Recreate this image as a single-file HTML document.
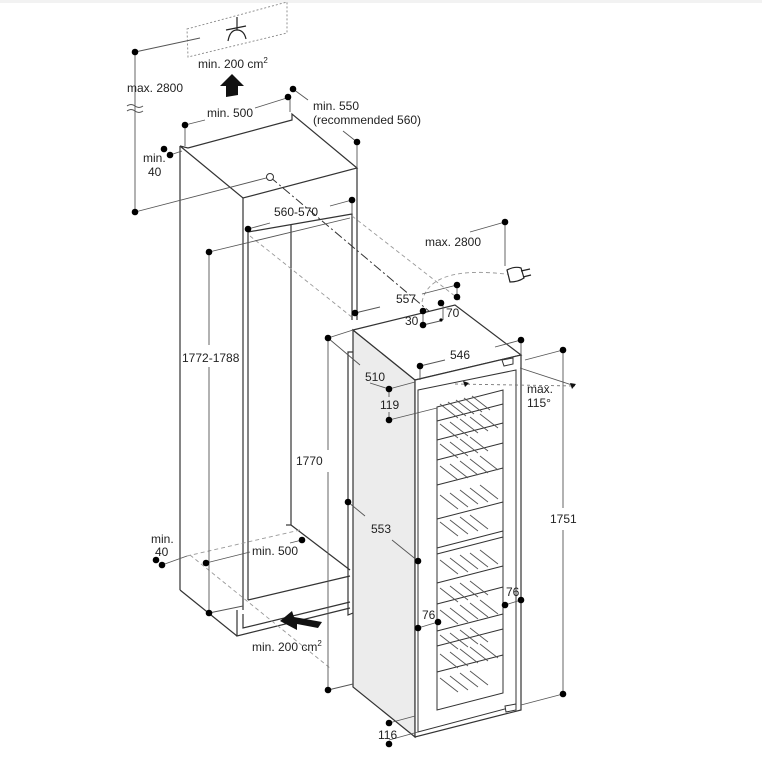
<!DOCTYPE html>
<html><head><meta charset="utf-8"><style>
html,body{margin:0;padding:0;background:#fff;}
svg{display:block}
text{font-family:"Liberation Sans",sans-serif;font-size:12px;fill:#222;}
</style></head><body>
<svg width="762" height="768" viewBox="0 0 762 768" xmlns="http://www.w3.org/2000/svg">
<rect x="0" y="0" width="762" height="3" fill="#f2f2f2"/>
<!-- cabinet -->
<g stroke="#333" stroke-width="1.2" fill="none">
<polygon points="180,146 243,198 357,168 292,114 292,120 188,148" fill="#fff"/>
<line x1="180" y1="146" x2="180" y2="590"/>
<line x1="243" y1="198" x2="243" y2="610"/>
<line x1="357" y1="168" x2="357" y2="320"/>
<polyline points="248,600 248,232 352,214 352,320"/>
<line x1="291" y1="225" x2="291" y2="525"/>
<line x1="180" y1="590" x2="237" y2="636"/>
<polyline points="237,610 237,636 350,608"/>
<polyline points="243,614 243,628 350,602"/>
<line x1="248" y1="600" x2="350" y2="576"/>
<line x1="291" y1="525" x2="350" y2="570"/>
<line x1="286" y1="525" x2="291" y2="525"/>
<polyline points="353,352 348,352 348,615 353,613"/>
</g>
<!-- dashed guides -->
<g stroke="#999" stroke-width="0.9" fill="none" stroke-dasharray="4,3">
<polygon points="187,29 287,2 287,33 188,57" stroke="#888" stroke-dasharray="2,2"/>
<line x1="352" y1="216" x2="460" y2="300"/>
<line x1="250" y1="236" x2="353" y2="318"/>
<line x1="187" y1="556" x2="300" y2="530"/>
<line x1="190" y1="555" x2="330" y2="668"/>
<path d="M422,302 Q430,262 520,276"/>
</g>
<line x1="270" y1="177" x2="430" y2="312" stroke="#333" stroke-width="1" stroke-dasharray="9,3,2,3"/>
<!-- vent symbol -->
<g stroke="#222" stroke-width="1.2" fill="none">
<line x1="237" y1="17" x2="237" y2="30"/><line x1="226" y1="30" x2="246" y2="26"/>
<path d="M228,41 Q230,30 237,30 Q244,30 246,39"/>
</g>
<polygon points="226,97 226,86 220,86 232,74 244,86 238,86 238,95" fill="#111"/>
<polygon points="280,621 292,611 294,617 322,622 318,628 297,624 297,630" fill="#111"/>
<!-- appliance -->
<g stroke="#333" stroke-width="1.2">
<polygon points="353,330 415,380 415,737 353,687" fill="#ececec"/>
<polygon points="353,330 455,305 521,355 415,380" fill="#fff"/>
<polygon points="415,380 521,355 521,710 415,737" fill="#fff"/>
<polygon points="418,390 516,370 516,706 418,732" fill="none" stroke-width="1"/>
<polygon points="437,407 503,390 503,693 437,710" fill="#fff" stroke-width="1"/>
<polygon points="502,360 513,358 513,364 504,366" fill="#fff" stroke-width="1"/>
<polygon points="505,706 516,704 516,710 506,712" fill="#fff" stroke-width="1"/>
</g>
<g stroke="#333" stroke-width="1">
<line x1="437" y1="421" x2="503" y2="404"/><line x1="437" y1="440" x2="503" y2="423"/>
<line x1="437" y1="460" x2="503" y2="443"/><line x1="437" y1="485" x2="503" y2="468"/>
<line x1="437" y1="519" x2="503" y2="502"/>
<line x1="437" y1="548" x2="503" y2="531"/><line x1="437" y1="554" x2="503" y2="537"/>
<line x1="437" y1="583" x2="503" y2="566"/><line x1="437" y1="604" x2="503" y2="587"/>
<line x1="437" y1="631" x2="503" y2="614"/><line x1="437" y1="646" x2="503" y2="629"/>
<line x1="437" y1="672" x2="503" y2="655"/>
</g>
<g stroke="#555" stroke-width="0.9">
<path d="M440,404 l18,14 M448,402 l18,14 M456,400 l18,14 M464,398 l18,14 M472,396 l18,14 M440,424 l18,14 M450,422 l18,14 M460,419 l18,14 M470,417 l18,14 M480,414 l18,14 M440,444 l18,14 M450,442 l18,14 M460,439 l18,14 M470,437 l18,14 M440,466 l18,14 M450,464 l18,14 M460,461 l18,14 M470,459 l18,14 M480,456 l18,14 M440,495 l18,14 M450,493 l18,14 M460,490 l18,14 M470,488 l18,14 M480,485 l18,14 M440,522 l18,14 M450,520 l18,14 M460,517 l18,14 M470,515 l18,14 M440,560 l18,14 M450,558 l18,14 M460,555 l18,14 M470,553 l18,14 M480,550 l18,14 M440,588 l18,14 M450,586 l18,14 M460,583 l18,14 M470,581 l18,14 M440,610 l18,14 M450,608 l18,14 M460,605 l18,14 M470,603 l18,14 M480,600 l18,14 M440,635 l18,14 M450,633 l18,14 M460,630 l18,14 M470,628 l18,14 M440,654 l18,14 M450,652 l18,14 M460,649 l18,14 M470,647 l18,14 M480,644 l18,14 M440,678 l18,14 M450,676 l18,14 M460,673 l18,14 M470,671 l18,14"/>
</g>
<!-- plug -->
<g stroke="#222" stroke-width="1.2" fill="#fff"><path d="M507,270 q8,-4 14,-2 l3,10 q-6,4 -14,4 z"/><line x1="521" y1="271" x2="530" y2="269"/><line x1="523" y1="277" x2="531" y2="275"/></g>
<!-- dimension lines -->
<g stroke="#555" stroke-width="0.9" fill="none">
<line x1="135" y1="52" x2="135" y2="212"/>
<line x1="135" y1="52" x2="200" y2="38"/>
<line x1="135" y1="212" x2="270" y2="177"/>
<line x1="185" y1="125" x2="185" y2="146"/><line x1="185" y1="125" x2="205" y2="120"/><line x1="255" y1="108" x2="290" y2="97"/>
<line x1="290" y1="97" x2="290" y2="112"/><line x1="293" y1="89" x2="308" y2="100"/>
<line x1="357" y1="142" x2="357" y2="168"/><line x1="343" y1="131" x2="357" y2="142"/>
<line x1="170" y1="155" x2="182" y2="151"/>
<line x1="248" y1="229" x2="270" y2="223"/><line x1="330" y1="206" x2="352" y2="200"/><line x1="352" y1="200" x2="352" y2="214"/>
<line x1="209" y1="252" x2="209" y2="345"/><line x1="209" y1="367" x2="209" y2="613"/><line x1="209" y1="252" x2="350" y2="218"/>
<line x1="505" y1="222" x2="505" y2="266"/><line x1="470" y1="232" x2="505" y2="222"/>
<line x1="355" y1="313" x2="380" y2="307"/><line x1="422" y1="294" x2="457" y2="285"/><line x1="457" y1="285" x2="457" y2="297"/>
<line x1="443" y1="304" x2="443" y2="320"/><line x1="423" y1="311" x2="423" y2="325"/><line x1="423" y1="325" x2="440" y2="321"/>
<line x1="420" y1="366" x2="420" y2="380"/><line x1="420" y1="366" x2="445" y2="360"/><line x1="495" y1="347" x2="521" y2="340"/><line x1="521" y1="340" x2="521" y2="355"/>
<line x1="328" y1="338" x2="353" y2="330"/><line x1="328" y1="338" x2="328" y2="450"/><line x1="328" y1="472" x2="328" y2="690"/><line x1="328" y1="690" x2="353" y2="684"/>
<line x1="328" y1="338" x2="360" y2="365"/><line x1="370" y1="383" x2="389" y2="389"/><line x1="389" y1="389" x2="415" y2="382"/>
<line x1="389" y1="420" x2="437" y2="408"/><line x1="389" y1="389" x2="389" y2="397"/><line x1="389" y1="412" x2="389" y2="420"/>
<line x1="563" y1="350" x2="563" y2="508"/><line x1="563" y1="530" x2="563" y2="694"/><line x1="525" y1="360" x2="563" y2="350"/><line x1="521" y1="705" x2="563" y2="694"/>
<line x1="520" y1="368" x2="575" y2="386"/>
<line x1="348" y1="502" x2="365" y2="516"/><line x1="392" y1="540" x2="418" y2="561"/>
<line x1="505" y1="605" x2="521" y2="600"/><line x1="418" y1="628" x2="438" y2="622"/>
<line x1="389" y1="740" x2="418" y2="732"/><line x1="389" y1="723" x2="415" y2="716"/>
<line x1="162" y1="565" x2="187" y2="556"/><line x1="206" y1="563" x2="250" y2="552"/><line x1="290" y1="543" x2="302" y2="540"/>
<line x1="209" y1="613" x2="243" y2="606"/>
</g>
<line x1="455" y1="384" x2="575" y2="386" stroke="#777" stroke-width="0.9" stroke-dasharray="3,3"/>
<polygon points="463,381 469,383 465,387" fill="#111"/><polygon points="570,383 576,384 572,389" fill="#111"/>
<path d="M127,106 q4,-3 8,0 q4,3 8,0 M127,111 q4,-3 8,0 q4,3 8,0" stroke="#555" fill="none"/>
<g fill="#000">
<circle cx="135" cy="52" r="3.3"/><circle cx="135" cy="212" r="3.3"/>
<circle cx="185" cy="125" r="3.3"/><circle cx="288" cy="97" r="3.3"/><circle cx="293" cy="89" r="3.3"/><circle cx="357" cy="142" r="3.3"/>
<circle cx="164" cy="149" r="3.3"/><circle cx="170" cy="155" r="3.3"/>
<circle cx="248" cy="229" r="3.3"/><circle cx="352" cy="200" r="3.3"/>
<circle cx="209" cy="252" r="3.3"/><circle cx="209" cy="613" r="3.3"/>
<circle cx="505" cy="222" r="3.3"/>
<circle cx="355" cy="313" r="3.3"/><circle cx="457" cy="285" r="3.3"/><circle cx="457" cy="297" r="3.3"/><circle cx="441" cy="303" r="3.3"/>
<circle cx="423" cy="311" r="3.3"/><circle cx="423" cy="325" r="3.3"/><circle cx="441" cy="320" r="1.6"/>
<circle cx="420" cy="366" r="3.3"/><circle cx="521" cy="340" r="3.3"/>
<circle cx="328" cy="338" r="3.3"/><circle cx="328" cy="690" r="3.3"/>
<circle cx="389" cy="389" r="3.3"/><circle cx="389" cy="420" r="3.3"/>
<circle cx="563" cy="350" r="3.3"/><circle cx="563" cy="694" r="3.3"/>
<circle cx="348" cy="502" r="3.3"/><circle cx="418" cy="561" r="3.3"/>
<circle cx="505" cy="605" r="3.3"/><circle cx="521" cy="600" r="3.3"/>
<circle cx="418" cy="628" r="3.3"/><circle cx="438" cy="622" r="3.3"/>
<circle cx="389" cy="723" r="3.3"/><circle cx="389" cy="744" r="3.3"/>
<circle cx="156" cy="560" r="3.3"/><circle cx="162" cy="565" r="3.3"/>
<circle cx="206" cy="563" r="3.3"/><circle cx="302" cy="540" r="3.3"/>
</g>
<circle cx="270" cy="177" r="3.5" fill="#fff" stroke="#333"/>
<!-- labels -->
<text x="198" y="68">min. 200 cm<tspan font-size="8" dy="-5">2</tspan></text>
<text x="127" y="92">max. 2800</text>
<text x="207" y="117">min. 500</text>
<text x="313" y="110">min. 550</text>
<text x="313" y="124">(recommended 560)</text>
<text x="143" y="162">min.</text><text x="148" y="176">40</text>
<text x="274" y="216">560-570</text>
<text x="182" y="362">1772-1788</text>
<text x="425" y="246">max. 2800</text>
<text x="396" y="303">557</text>
<text x="446" y="317">70</text>
<text x="405" y="325">30</text>
<text x="450" y="359">546</text>
<text x="365" y="381">510</text>
<text x="380" y="409">119</text>
<text x="527" y="393">max.</text><text x="527" y="407">115°</text>
<text x="296" y="465">1770</text>
<text x="550" y="523">1751</text>
<text x="371" y="533">553</text>
<text x="506" y="596">76</text>
<text x="422" y="619">76</text>
<text x="378" y="739">116</text>
<text x="151" y="543">min.</text><text x="155" y="556">40</text>
<text x="252" y="555">min. 500</text>
<text x="252" y="651">min. 200 cm<tspan font-size="8" dy="-5">2</tspan></text>
</svg>
</body></html>
